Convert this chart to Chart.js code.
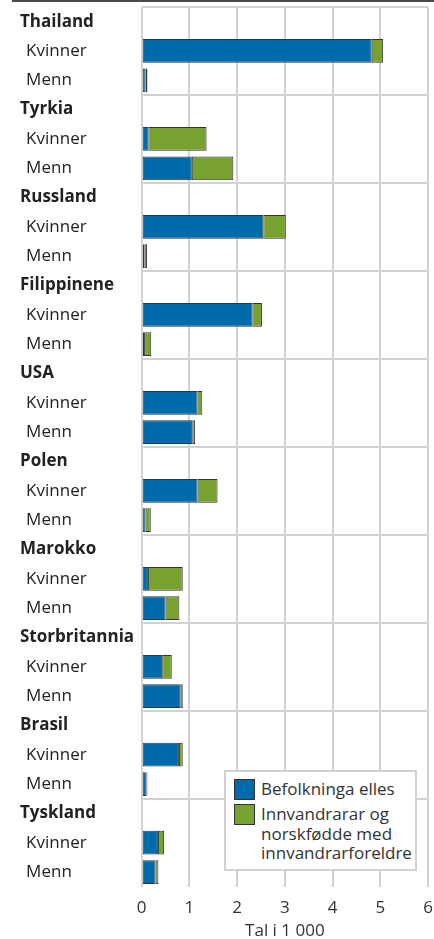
<!DOCTYPE html>
<html>
<head>
<meta charset="utf-8">
<script src="https://cdn.jsdelivr.net/npm/chart.js@4"></script>
<style>
  html, body { margin: 0; background: #fff; font-family: "Open Sans", sans-serif; overflow: hidden; }
  #wrap { position: relative; width: 434px; height: 939px; overflow: hidden; }
  #chart { display: block; }
  #topLine { position: absolute; left: 12px; right: 0; top: 0; height: 2px; background: #4a4a4a; }
  #legend {
    position: absolute; left: 224px; top: 770px; width: 189px;
    border: 2px solid #d2d2d2; background: #fff;
    padding: 7px 0 6px 0; color: #333; font-size: 17px; line-height: 19.5px;
  }
  .item { display: flex; align-items: flex-start; margin-left: 8px; }
  .item + .item { margin-top: 4px; }
  .swatch { width: 19px; height: 19px; border: 1px solid #333; flex: none; }
  .item span { margin-left: 6px; }
</style>
</head>
<body>
<div id="wrap">
  <canvas id="chart"></canvas>
  <div id="topLine"></div>
  <div id="legend"></div>
</div>
<script>
const countries = ['Thailand', 'Tyrkia', 'Russland', 'Filippinene', 'USA', 'Polen', 'Marokko', 'Storbritannia', 'Brasil', 'Tyskland'];
const subRows = ['Kvinner', 'Menn'];
// Tal i 1 000
const befolkKvinner = [4.82, 0.14, 2.55, 2.32, 1.17, 1.17, 0.13, 0.43, 0.78, 0.34];
const befolkMenn = [0.08, 1.05, 0.06, 0.05, 1.06, 0.08, 0.50, 0.81, 0.10, 0.29];
const innvKvinner = [0.24, 1.22, 0.47, 0.20, 0.10, 0.42, 0.73, 0.20, 0.08, 0.13];
const innvMenn = [0.04, 0.87, 0.05, 0.15, 0.06, 0.11, 0.29, 0.05, 0.02, 0.06];
const xTicks = [0, 1, 2, 3, 4, 5, 6];
const seriesNames = ['Befolkninga elles', 'Innvandrarar og\nnorskfødde med\ninnvandrarforeldre'];

const blue = '#006bab';
const green = '#78a22f';

const labels = [];
const befolk = [];
const innv = [];
countries.forEach((c, i) => {
  labels.push(c, subRows[0], subRows[1]);
  befolk.push(null, befolkKvinner[i], befolkMenn[i]);
  innv.push(null, innvKvinner[i], innvMenn[i]);
});

const ctx = document.getElementById('chart');
const chart = new Chart(ctx, {
  type: 'bar',
  data: {
    labels: labels,
    datasets: [
      { label: seriesNames[0], data: befolk, backgroundColor: blue },
      { label: seriesNames[1], data: innv, backgroundColor: green }
    ]
  },
  options: {
    indexAxis: 'y',
    responsive: true,
    maintainAspectRatio: false,
    animation: false,
    devicePixelRatio: 1,
    layout: { padding: { left: 20, right: 6, top: 7, bottom: 0 } },
    datasets: {
      bar: {
        borderColor: '#333',
        borderWidth: 1,
        borderSkipped: false,
        barPercentage: 1,
        categoryPercentage: 0.81
      }
    },
    plugins: {
      legend: { display: false },
      tooltip: { enabled: false }
    },
    scales: {
      x: {
        stacked: true,
        min: 0,
        max: 6,
        afterBuildTicks: scale => { scale.ticks = xTicks.map(v => ({ value: v })); },
        afterFit: scale => {
          scale.height = 52.3;
          scale.paddingLeft = 0;
          scale.paddingRight = 0;
        },
        grid: { color: '#d2d2d2', lineWidth: 2, drawTicks: false },
        border: { display: false },
        ticks: { color: '#333', padding: 11, font: { family: 'Open Sans', size: 17 } },
        title: {
          display: true,
          text: 'Tal i 1 000',
          color: '#333',
          padding: { top: 3, bottom: -2 },
          font: { family: 'Open Sans', size: 17 }
        }
      },
      y: {
        stacked: true,
        afterFit: scale => {
          scale.width = 121.7;
          scale.paddingTop = 0;
          scale.paddingBottom = 0;
        },
        grid: {
          offset: true,
          drawTicks: false,
          lineWidth: 2,
          color: c => (c.index % 3 === 0 ? '#d2d2d2' : 'rgba(0,0,0,0)')
        },
        border: { display: false },
        ticks: {
          crossAlign: 'far',
          padding: 0,
          autoSkip: false,
          color: '#222',
          callback: function(value, index) {
            const l = this.getLabelForValue(value);
            return index % 3 === 0 ? l : ' \u200A' + l;
          },
          font: c => ({
            family: 'Open Sans',
            size: 17,
            weight: c.index % 3 === 0 ? 'bold' : 'normal'
          })
        }
      }
    }
  }
});

const legendEl = document.getElementById('legend');
chart.data.datasets.forEach(ds => {
  const item = document.createElement('div');
  item.className = 'item';
  const sw = document.createElement('div');
  sw.className = 'swatch';
  sw.style.background = ds.backgroundColor;
  const txt = document.createElement('span');
  txt.innerHTML = ds.label.split('\n').join('<br>');
  item.appendChild(sw);
  item.appendChild(txt);
  legendEl.appendChild(item);
});
</script>
</body>
</html>
